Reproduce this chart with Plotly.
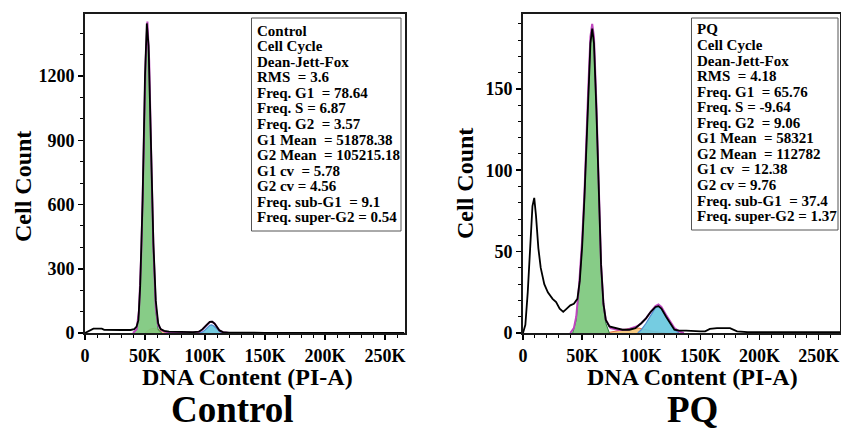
import plotly.graph_objects as go

# ---------------- data ----------------
x_tick_vals = [0, 50000, 100000, 150000, 200000, 250000]
x_tick_text = ["0", "50K", "100K", "150K", "200K", "250K"]
ctrl_y_ticks = [0, 300, 600, 900, 1200]
pq_y_ticks = [0, 50, 100, 150]

# Control panel
ctrl_hist_x = [0, 2000, 5000, 7000, 10000, 14000, 16000, 20000, 30000, 38000, 41000, 43000, 44500,
               46000, 48000, 50000, 51500, 53000, 55000, 57000, 59000, 61000, 63000, 66000, 70000,
               80000, 90000, 95000, 98000, 101000, 104000, 106000, 108000, 110000, 112000, 115000,
               120000, 150000, 200000, 266000]
ctrl_hist_y = [0, 6, 16, 20, 20, 20, 15, 14, 14, 14, 18, 30, 60,
               220, 620, 1200, 1446, 1340, 900, 420, 150, 45, 18, 10, 6,
               4, 4, 6, 18, 36, 52, 53, 44, 28, 12, 4,
               2, 1, 1, 0]
ctrl_g1_x = [40000, 43000, 45000, 47000, 49000, 50500, 52000, 53500, 55000, 57000, 59000, 61000, 64000]
ctrl_g1_y = [0, 15, 100, 380, 850, 1250, 1440, 1250, 850, 380, 100, 15, 0]
ctrl_s_x = [50000, 54000, 58000, 62000, 66000, 70000, 80000, 95000, 100000, 104000]
ctrl_s_y = [0, 18, 22, 14, 6, 2, 1, 1, 2, 0]
ctrl_g2_x = [95000, 98000, 100000, 102000, 104000, 105500, 107000, 109000, 111000, 113000, 116000]
ctrl_g2_y = [0, 5, 14, 26, 36, 38, 34, 24, 12, 4, 0]
ctrl_fit_x = [40000, 43000, 45000, 47000, 49000, 50500, 52000, 53500, 55000, 57000, 59000, 61000,
              64000, 68000, 75000, 90000, 94000, 97000, 100000, 102000, 104000, 106000, 108000,
              110000, 112000, 115000, 120000]
ctrl_fit_y = [0, 17, 105, 390, 865, 1265, 1455, 1270, 870, 400, 120, 35,
              12, 4, 2, 2, 4, 12, 30, 42, 51, 52, 44,
              28, 12, 3, 0]

# PQ panel
pq_hist_x = [0, 2000, 4000, 6000, 8000, 9500, 11000, 13000, 15000, 18000, 21000, 25000, 28000,
             31000, 34000, 37000, 40000, 43000, 46000, 48000, 50000, 52000, 55000, 57000, 58500,
             60000, 62000, 64000, 66000, 68000, 70000, 73000, 78000, 84000, 90000, 95000, 100000,
             104000, 108000, 112000, 114500, 117000, 121000, 125000, 128000, 132000, 138000,
             150000, 154000, 158000, 164000, 175000, 181000, 190000, 268000]
pq_hist_y = [0, 5, 25, 55, 78, 83, 72, 52, 40, 30, 25, 21, 19,
             15, 13, 15, 17, 18, 21, 32, 53, 84, 143, 178, 187,
             178, 138, 84, 42, 18, 8, 4, 3, 2, 2, 3, 6,
             9, 13, 16, 16.5, 15, 10, 5, 2, 1.5, 1.5,
             1, 1, 2.5, 3, 3, 1, 0.5, 0.5]
pq_g1_x = [42000, 45000, 47500, 50000, 52000, 55000, 57000, 58500, 60000, 62000, 64000, 66000,
           68000, 70000, 73000]
pq_g1_y = [0, 8, 28, 55, 85, 145, 180, 188, 180, 140, 85, 40, 16, 6, 0]
pq_s_x = [70000, 78000, 86000, 92000, 98000, 104000, 110000, 120000]
pq_s_y = [0, 1, 2, 3, 3, 2, 1, 0]
pq_g2_x = [97000, 100000, 104000, 108000, 112000, 114500, 117000, 121000, 125000, 128000, 132000]
pq_g2_y = [0, 2, 6, 11, 15.5, 16.5, 15, 10, 5, 2, 0]
pq_fit_x = [40000, 43000, 45000, 47500, 50000, 52000, 55000, 57000, 58500, 60000, 62000, 64000,
            66000, 68000, 70000, 74000, 80000, 88000, 92000, 96000, 100000, 104000, 108000,
            112000, 114500, 117000, 121000, 125000, 128000, 132000, 136000]
pq_fit_y = [0, 3, 10, 30, 57, 87, 147, 182, 190, 182, 142, 87,
            42, 18, 8, 3, 2, 2, 3, 4, 6, 9, 13,
            16.5, 17.5, 16, 11, 6, 3, 1, 0]

ctrl_stats = ["Control", "Cell Cycle", "Dean-Jett-Fox", "RMS\u00a0 = 3.6", "Freq. G1\u00a0 = 78.64",
              "Freq. S = 6.87", "Freq. G2\u00a0 = 3.57", "G1 Mean\u00a0 = 51878.38",
              "G2 Mean\u00a0 = 105215.18", "G1 cv\u00a0 = 5.78", "G2 cv = 4.56",
              "Freq. sub-G1\u00a0 = 9.1", "Freq. super-G2 = 0.54"]
pq_stats = ["PQ", "Cell Cycle", "Dean-Jett-Fox", "RMS\u00a0 = 4.18", "Freq. G1\u00a0 = 65.76",
            "Freq. S = -9.64", "Freq. G2\u00a0 = 9.06", "G1 Mean\u00a0 = 58321",
            "G2 Mean\u00a0 = 112782", "G1 cv\u00a0 = 12.38", "G2 cv = 9.76",
            "Freq. sub-G1\u00a0 = 37.4", "Freq. super-G2 = 1.37"]

x_title = "DNA Content (PI-A)"
y_title = "Cell Count"
panel_titles = ["Control", "PQ"]

# ---------------- figure ----------------
W, H = 841, 432
FONT = "Liberation Serif"


def px(x):
    return x / W


def py(y):
    return 1 - y / H


fig = go.Figure()

GREEN_FILL = "rgba(125,200,125,0.92)"
GREEN_LINE = "rgb(40,130,60)"
CYAN_FILL = "rgba(105,200,222,0.92)"
CYAN_LINE = "rgb(80,140,210)"
S_FILL = "rgba(245,190,100,0.8)"
S_LINE = "rgb(230,110,70)"
MAGENTA = "rgb(190,70,190)"


def add_panel(xa, ya, hx, hy, g1x, g1y, sx, sy, g2x, g2y, fx, fy):
    common = dict(xaxis=xa, yaxis=ya, mode="lines", hoverinfo="skip", showlegend=False)
    fig.add_trace(go.Scatter(x=sx, y=sy, fill="tozeroy", fillcolor=S_FILL,
                             line=dict(color=S_LINE, width=1), **common))
    fig.add_trace(go.Scatter(x=g1x, y=g1y, fill="tozeroy", fillcolor=GREEN_FILL,
                             line=dict(color=GREEN_LINE, width=1), **common))
    fig.add_trace(go.Scatter(x=g2x, y=g2y, fill="tozeroy", fillcolor=CYAN_FILL,
                             line=dict(color=CYAN_LINE, width=1.2), **common))
    fig.add_trace(go.Scatter(x=fx, y=fy, line=dict(color=MAGENTA, width=2), **common))
    fig.add_trace(go.Scatter(x=hx, y=hy, line=dict(color="black", width=1.8), **common))


add_panel("x", "y", ctrl_hist_x, ctrl_hist_y, ctrl_g1_x, ctrl_g1_y, ctrl_s_x, ctrl_s_y,
          ctrl_g2_x, ctrl_g2_y, ctrl_fit_x, ctrl_fit_y)
add_panel("x2", "y2", pq_hist_x, pq_hist_y, pq_g1_x, pq_g1_y, pq_s_x, pq_s_y,
          pq_g2_x, pq_g2_y, pq_fit_x, pq_fit_y)

tickfont = dict(family=FONT, size=18, color="black", weight="bold")
ydom = [py(333), py(14)]


def xaxis(dom, rng, anchor):
    return dict(domain=dom, range=rng, anchor=anchor, automargin=False,
                tickmode="array", tickvals=x_tick_vals, ticktext=x_tick_text,
                ticks="outside", ticklen=5, tickwidth=1.5, tickcolor="black", tickfont=tickfont,
                ticklabeloverflow="allow",
                showline=True, linecolor="#1a1a1a", linewidth=2, mirror=True,
                showgrid=False, zeroline=False, fixedrange=True,
                minor=dict(ticks="outside", ticklen=3, tickwidth=1, tickcolor="black", dtick=10000,
                           tick0=0, showgrid=False))


def yaxis(anchor, rng, vals, mdt):
    return dict(domain=ydom, range=rng, anchor=anchor, automargin=False,
                tickmode="array", tickvals=vals, ticktext=[str(v) for v in vals],
                ticks="outside", ticklen=5, tickwidth=1.5, tickcolor="black", tickfont=tickfont,
                ticklabeloverflow="allow",
                showline=True, linecolor="#1a1a1a", linewidth=2, mirror=True,
                showgrid=False, zeroline=False, fixedrange=True,
                minor=dict(ticks="outside", ticklen=3, tickwidth=1, tickcolor="black", dtick=mdt,
                           tick0=0, showgrid=False))


fig.update_layout(
    width=W, height=H,
    margin=dict(l=0, r=0, t=0, b=0, autoexpand=False),
    paper_bgcolor="white", plot_bgcolor="white",
    showlegend=False, hovermode=False,
    xaxis=xaxis([px(85), px(405)], [0, 266667], "y"),
    xaxis2=xaxis([px(523), px(840)], [0, 268000], "y2"),
    yaxis=yaxis("x", [0, 1490], ctrl_y_ticks, 100),
    yaxis2=yaxis("x2", [0, 196], pq_y_ticks, 10),
)

annotations = []
shapes = []

# stats boxes
for lines, bx0, bx1, by0, by1, tx, ty0 in [
    (ctrl_stats, 251.5, 401, 18, 231, 254.5, 30.7),
    (pq_stats, 691.5, 838, 18, 230, 694.5, 29.5),
]:
    shapes.append(dict(type="rect", xref="paper", yref="paper", x0=px(bx0), x1=px(bx1),
                       y0=py(by1), y1=py(by0), line=dict(color="#555", width=1),
                       fillcolor="white", layer="above"))
    for i, t in enumerate(lines):
        annotations.append(dict(text=t, xref="paper", yref="paper", x=px(tx), y=py(ty0 + i * 15.55),
                                xanchor="left", yanchor="middle", showarrow=False,
                                font=dict(family=FONT, size=15, color="black", weight="bold")))

# axis titles and panel titles
for cx, cy in [(247, 377.4), (692, 377.4)]:
    annotations.append(dict(text=x_title, xref="paper", yref="paper", x=px(cx), y=py(cy),
                            xanchor="center", yanchor="middle", showarrow=False,
                            font=dict(family=FONT, size=24, color="black", weight="bold")))
for cx, cy in [(23, 187), (465, 184)]:
    annotations.append(dict(text=y_title, xref="paper", yref="paper", x=px(cx), y=py(cy),
                            xanchor="center", yanchor="middle", showarrow=False, textangle=-90,
                            font=dict(family=FONT, size=24, color="black", weight="bold")))
for t, cx in [(panel_titles[0], 232), (panel_titles[1], 692)]:
    annotations.append(dict(text=t, xref="paper", yref="paper", x=px(cx), y=0,
                            xanchor="center", yanchor="bottom", showarrow=False,
                            font=dict(family=FONT, size=37, color="black", weight="bold")))

fig.update_layout(annotations=annotations, shapes=shapes)
fig.write_html("out.html", config={"displayModeBar": False, "staticPlot": True},
               post_script="document.body.style.margin='0';")
